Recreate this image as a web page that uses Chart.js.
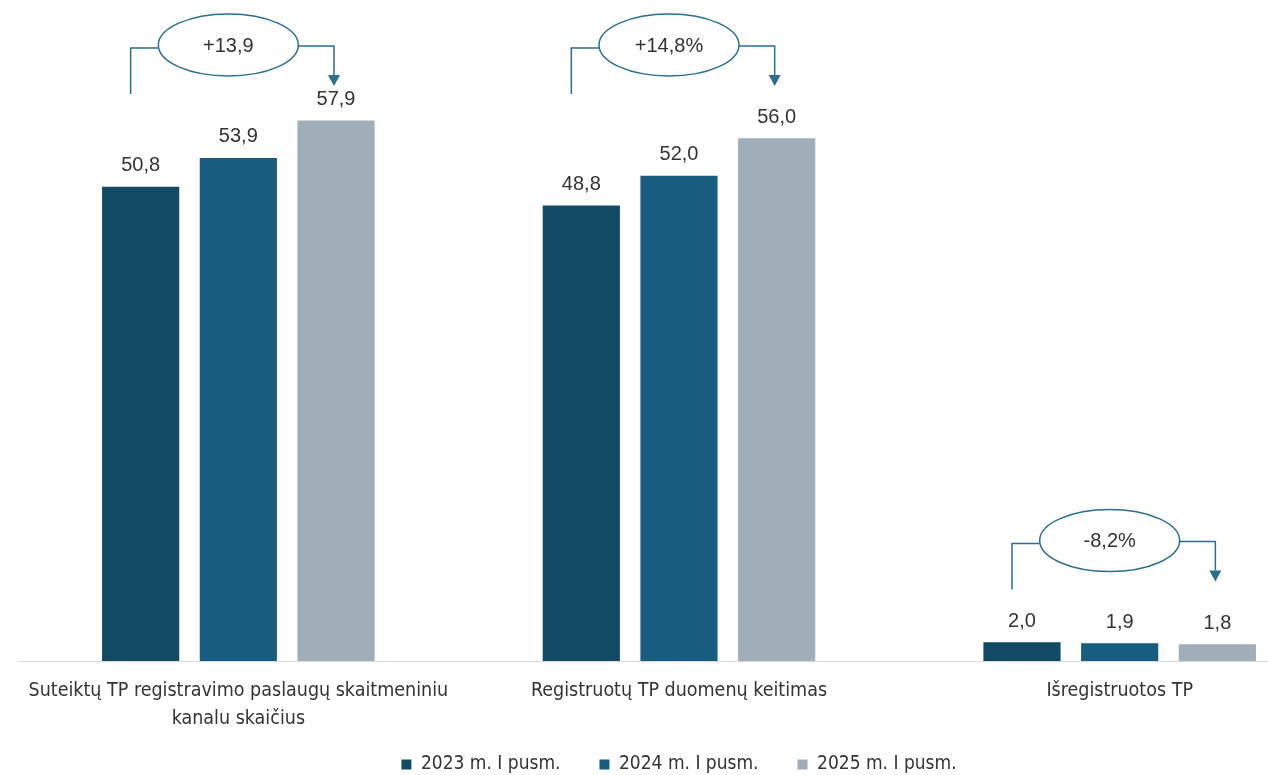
<!DOCTYPE html>
<html>
<head>
<meta charset="utf-8">
<script src="https://cdn.jsdelivr.net/npm/chart.js@4.4.1/dist/chart.umd.min.js"></script>
<style>
  html, body { margin: 0; padding: 0; background: #fff; overflow: hidden; }
  #wrap { width: 1340px; height: 775px; position: relative; }
</style>
</head>
<body>
<div id="wrap"><canvas id="myChart"></canvas></div>
<script>
// Categories (x axis)
const categories = [
    ['Suteiktų TP registravimo paslaugų skaitmeniniu', 'kanalu skaičius'],
    'Registruotų TP duomenų keitimas',
    'Išregistruotos TP'
];

// Series
const seriesNames = ['2023 m. I pusm.', '2024 m. I pusm.', '2025 m. I pusm.'];
const values2023 = [50.8, 48.8, 2.0];
const values2024 = [53.9, 52.0, 1.9];
const values2025 = [57.9, 56.0, 1.8];

// Change bubbles above each group
const changeLabels = ['+13,9', '+14,8%', '-8,2%'];

const colors = ['#124A63', '#185D80', '#A0AEBA'];
const lineColor = '#2B6E8D';
const narrowFont = '"DejaVu Sans Condensed", "Liberation Sans Narrow", "Liberation Sans", sans-serif';

function fmt(v) {
    return v.toFixed(1).replace('.', ',');
}

// Value labels above bars
const valueLabels = {
    id: 'valueLabels',
    afterDatasetsDraw(chart) {
        const ctx = chart.ctx;
        ctx.save();
        ctx.font = '20px "Liberation Sans", Arial, sans-serif';
        ctx.fillStyle = '#333333';
        ctx.textAlign = 'center';
        ctx.textBaseline = 'middle';
        chart.data.datasets.forEach((ds, di) => {
            chart.getDatasetMeta(di).data.forEach((bar, i) => {
                ctx.fillText(fmt(ds.data[i]), bar.x, bar.y - 21);
            });
        });
        ctx.restore();
    }
};

// Ellipse + bracket arrow showing change 2023 -> 2025
const changeBubbles = {
    id: 'changeBubbles',
    afterDatasetsDraw(chart, args, opts) {
        const ctx = chart.ctx;
        const yScale = chart.scales.y;
        const first = chart.getDatasetMeta(0).data;
        const mid = chart.getDatasetMeta(1).data;
        const last = chart.getDatasetMeta(2).data;
        ctx.save();
        ctx.lineWidth = 1.5;
        opts.levels.forEach((lvl, i) => {
            const cy = yScale.getPixelForValue(lvl);
            const cx = mid[i].x - 10;
            const rx = 70, ry = 31;
            const lx = first[i].x - 10;
            const rxLine = last[i].x - 2;
            const by = cy + 3;
            ctx.strokeStyle = lineColor;
            ctx.fillStyle = lineColor;
            // left bracket
            ctx.beginPath();
            ctx.moveTo(lx, by + 46);
            ctx.lineTo(lx, by);
            ctx.lineTo(cx - rx, by);
            ctx.stroke();
            // right bracket with arrow
            ctx.beginPath();
            ctx.moveTo(cx + rx, by - 2);
            ctx.lineTo(rxLine, by - 2);
            ctx.lineTo(rxLine, by + 27);
            ctx.stroke();
            ctx.beginPath();
            ctx.moveTo(rxLine - 6, by + 27);
            ctx.lineTo(rxLine + 6, by + 27);
            ctx.lineTo(rxLine, by + 38);
            ctx.closePath();
            ctx.fill();
            // ellipse
            ctx.beginPath();
            ctx.ellipse(cx, cy, rx, ry, 0, 0, Math.PI * 2);
            ctx.fillStyle = '#ffffff';
            ctx.fill();
            ctx.stroke();
            ctx.fillStyle = '#333333';
            ctx.font = '20px "Liberation Sans", Arial, sans-serif';
            ctx.textAlign = 'center';
            ctx.textBaseline = 'middle';
            ctx.fillText(changeLabels[i], cx, cy + 1);
        });
        ctx.restore();
    }
};

const ctx = document.getElementById('myChart').getContext('2d');
const myChart = new Chart(ctx, {
    type: 'bar',
    data: {
        labels: categories,
        datasets: [
            { label: seriesNames[0], data: values2023, backgroundColor: colors[0] },
            { label: seriesNames[1], data: values2024, backgroundColor: colors[1] },
            { label: seriesNames[2], data: values2025, backgroundColor: colors[2] }
        ]
    },
    options: {
        responsive: true,
        maintainAspectRatio: false,
        animation: false,
        datasets: {
            bar: { categoryPercentage: 0.665, barPercentage: 0.79 }
        },
        layout: { padding: { left: 18, right: 0, top: 101, bottom: -9 } },
        scales: {
            x: {
                grid: { display: false },
                border: { color: '#D9D9D9', width: 1 },
                ticks: {
                    color: '#333333',
                    padding: 8,
                    font: { family: narrowFont, size: 19.5, lineHeight: 1.436 },
                    maxRotation: 0,
                    autoSkip: false
                },
                // labels run into the legend band; keep plot bottom fixed and don't clip them
                afterFit(scale) {
                    scale.height = 55;
                    scale._computeLabelArea = () => undefined;
                }
            },
            y: {
                display: false,
                min: 0,
                max: 60
            }
        },
        plugins: {
            legend: {
                position: 'bottom',
                labels: {
                    color: '#333333',
                    boxWidth: 10,
                    boxHeight: 10,
                    padding: 39,
                    font: { family: narrowFont, size: 19 }
                }
            },
            tooltip: { enabled: false },
            changeBubbles: { levels: [66.0, 66.0, 12.9] }
        }
    },
    plugins: [valueLabels, changeBubbles]
});
</script>
</body>
</html>
